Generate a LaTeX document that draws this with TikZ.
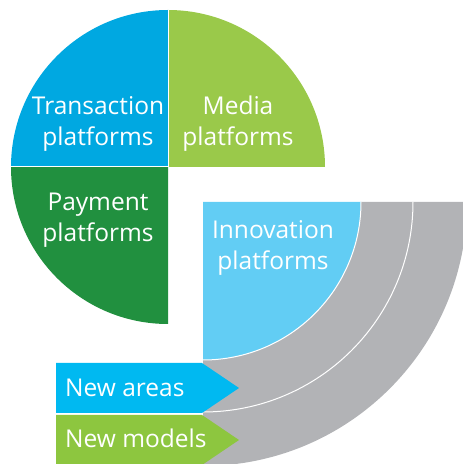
\documentclass[tikz,border=0pt]{standalone}
\usepackage{fontspec}
\setmainfont{Open Sans}
\usepackage{tikz}
\definecolor{transblue}{HTML}{00A8E1}
\definecolor{mediagreen}{HTML}{9AC94A}
\definecolor{paygreen}{HTML}{21903F}
\definecolor{innoblue}{HTML}{62CDF4}
\definecolor{ringgray}{HTML}{B2B3B6}
\definecolor{areablue}{HTML}{00B9F1}
\definecolor{modelgreen}{HTML}{8DC63F}

\begin{document}
\begin{tikzpicture}[x=1pt, y=1pt,
  txt/.style={text=white, font=\fontsize{24.5}{31}\selectfont, align=center, inner sep=0pt},
  sep/.style={draw=white, line width=1pt}]
\useasboundingbox (0,0) rectangle (463,464);
\clip (0,0) rectangle (463,464);
\coordinate (c1) at (168,297);
\coordinate (c2) at (203,262);
\fill[transblue] (c1) -- (11,297) arc[start angle=180, end angle=90, radius=157] -- cycle;
\fill[mediagreen] (c1) -- (168,454) arc[start angle=90, end angle=0, radius=157] -- cycle;
\fill[paygreen] (c1) -- (168,140) arc[start angle=270, end angle=180, radius=157] -- cycle;
\fill[innoblue] (c2) -- (361,262) arc[start angle=0, end angle=-90, radius=158] -- cycle;
\fill[ringgray] (361,262) -- (467,262) arc[start angle=0, end angle=-90, radius=264] -- (203,104) arc[start angle=-90, end angle=0, radius=158] -- cycle;
\draw[sep] (361,262) arc[start angle=0, end angle=-90, radius=158];
\draw[sep] (413,262) arc[start angle=0, end angle=-90, radius=210];
\draw[sep] (168,454) -- (c1) -- (11,297);
\fill[areablue] (56,101) -- (202,101) -- (239,76) -- (202,51) -- (56,51) -- cycle;
\fill[modelgreen] (56,49) -- (202,49) -- (239,24) -- (202,-1) -- (56,-1) -- cycle;
\node[txt, anchor=base] (trans) at (98,318) {Transaction\\platforms};
\node[txt, anchor=base] (media) at (238,318) {Media\\platforms};
\node[txt, anchor=base] (pay) at (98,222) {Payment\\platforms};
\node[txt, anchor=base] (inno) at (273,194) {Innovation\\platforms};
\node[txt, anchor=base west] (areas) at (65,67) {New areas};
\node[txt, anchor=base west] (models) at (65,16) {New models};
\end{tikzpicture}
\end{document}
